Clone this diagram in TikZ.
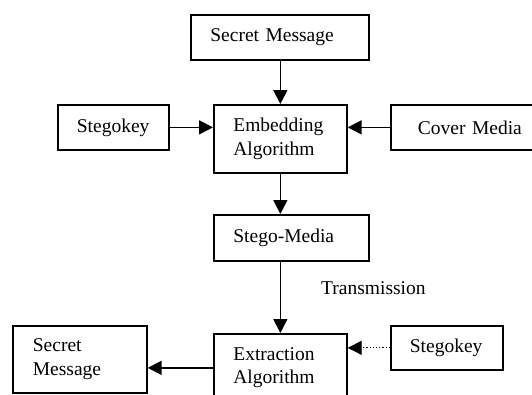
\documentclass[tikz,border=0pt]{standalone}
\usepackage{fontspec}
\setmainfont{Liberation Serif}
\usetikzlibrary{arrows.meta}
\begin{document}
\begin{tikzpicture}[x=1pt,y=-1pt,
  box/.style={draw,line width=1.7pt,rectangle,anchor=north west,inner ysep=0pt,
    align=left,font=\fontsize{19.5}{23.5}\selectfont},
  conn/.style={line width=1.7pt,-{Triangle[length=14pt,width=14pt]}},
  dconn/.style={line width=1.2pt,dotted,-{Triangle[length=14pt,width=14pt]}}]
\useasboundingbox (0,0) rectangle (532,394);
\begin{scope}
\clip (0,0) rectangle (532,394);
\node[box,inner xsep=19.5pt,text width=139pt,minimum height=45pt] (sm1) at (190,14) {Secret Message};
\node[box,inner xsep=19pt,text width=73pt,minimum height=45pt] (sk1) at (57,104) {Stegokey};
\node[box,inner xsep=19.5pt,text width=94pt,minimum height=68pt] (emb) at (213,104) {Embedding\\Algorithm};
\node[box,inner xsep=27pt,text width=106pt,minimum height=45pt] (cov) at (390,104) {Cover Media};
\node[box,inner xsep=19.5pt,text width=116pt,minimum height=46pt] (stm) at (213,214) {Stego-Media};
\node[box,inner xsep=19.5pt,text width=94pt,minimum height=68pt] (ext) at (213,333) {Extraction\\Algorithm};
\node[box,inner xsep=20pt,text width=94pt,minimum height=67pt] (sm2) at (12,325) {Secret\\Message};
\node[box,inner xsep=19pt,text width=74pt,minimum height=44pt] (sk2) at (390,325) {Stegokey};
\node[anchor=west,inner sep=0pt,font=\fontsize{19.5}{23.5}\selectfont] (tr) at (321,288) {Transmission};
\draw[conn] (emb.north |- sm1.south) -- (emb.north);
\draw[conn] (sk1.east) -- (sk1.east -| emb.west);
\draw[conn] (cov.west) -- (cov.west -| emb.east);
\draw[conn] (emb.south) -- (emb.south |- stm.north);
\draw[conn] (ext.north |- stm.south) -- (ext.north);
\draw[conn] (ext.west) -- (ext.west -| sm2.east);
\draw[dconn] (sk2.west) -- (sk2.west -| ext.east);
\end{scope}
\end{tikzpicture}
\end{document}
